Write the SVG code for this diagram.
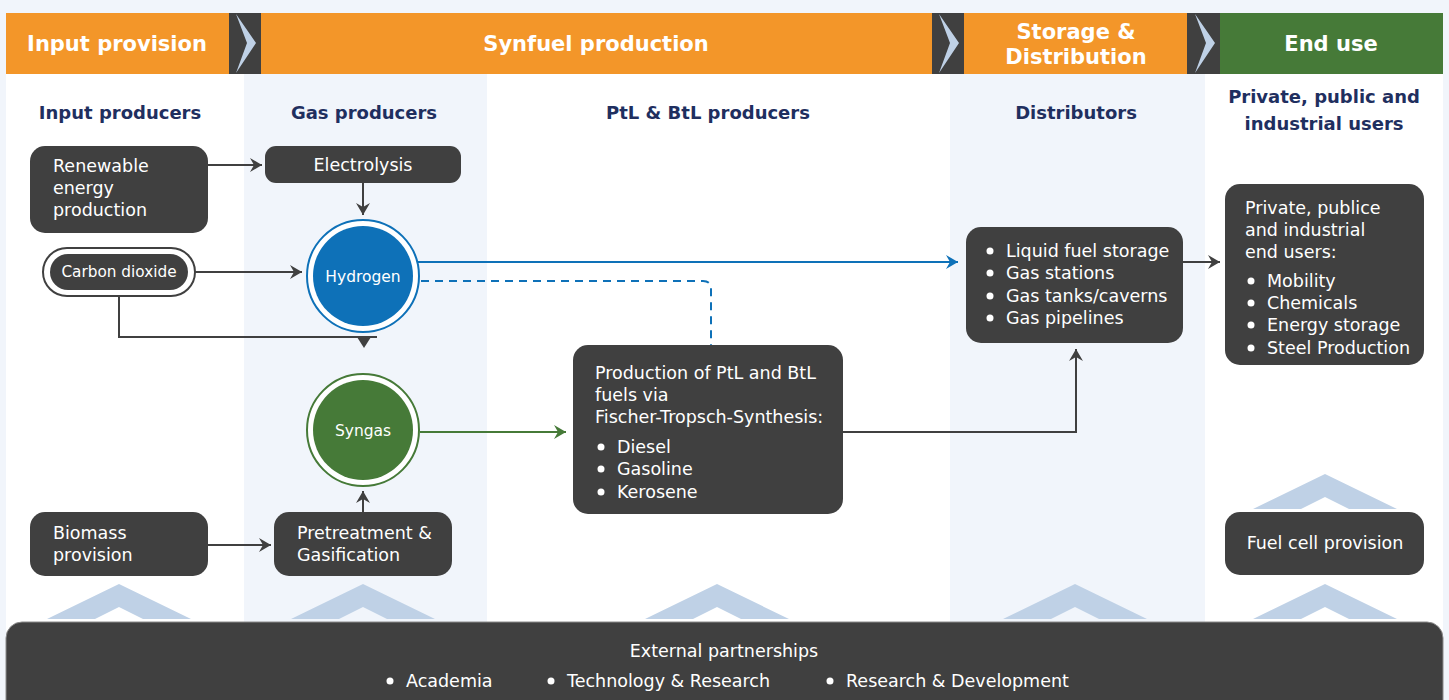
<svg xmlns="http://www.w3.org/2000/svg" width="1449" height="700" viewBox="0 0 1449 700">
<style>
.hdr{font-family:"DejaVu Sans","Liberation Sans",sans-serif;font-weight:bold;font-size:21px;fill:#fff;text-anchor:middle}
.col{font-family:"DejaVu Sans","Liberation Sans",sans-serif;font-weight:bold;font-size:18px;fill:#1f2f5f;text-anchor:middle}
.box{fill:#404040}
.t{font-family:"DejaVu Sans","Liberation Sans",sans-serif;font-size:17.5px;fill:#fff}
.tc{font-family:"DejaVu Sans","Liberation Sans",sans-serif;font-size:17.5px;fill:#fff;text-anchor:middle}
.chev{fill:#bfd1e6}
.sep{fill:#404040}
.ln{fill:none;stroke:#404040;stroke-width:2}
.lb{fill:none;stroke:#0e71b8;stroke-width:2}
.lg{fill:none;stroke:#467a38;stroke-width:2}
</style>
<defs>
<marker id="ad" markerUnits="userSpaceOnUse" markerWidth="13" markerHeight="14" refX="12" refY="7" orient="auto"><path d="M0,0 L12,7 L0,14 L4,7 Z" fill="#404040"/></marker>
<marker id="ab" markerUnits="userSpaceOnUse" markerWidth="13" markerHeight="14" refX="12" refY="7" orient="auto"><path d="M0,0 L12,7 L0,14 L4,7 Z" fill="#0e71b8"/></marker>
<marker id="ag" markerUnits="userSpaceOnUse" markerWidth="13" markerHeight="14" refX="12" refY="7" orient="auto"><path d="M0,0 L12,7 L0,14 L4,7 Z" fill="#467a38"/></marker>
<path id="chup" d="M-72,35 L0,0 L72,35 L24,35 L0,23 L-24,35 Z"/>
<path id="chr" d="M0,0 L20,29 L0,59 L11,29 Z"/>
</defs>
<rect width="1449" height="700" fill="#f1f5fb"/>
<!-- columns -->
<rect x="6" y="74" width="238" height="560" fill="#ffffff"/>
<rect x="487" y="74" width="463" height="560" fill="#ffffff"/>
<rect x="1205" y="74" width="238" height="560" fill="#ffffff"/>
<!-- header -->
<g id="header">
<rect x="6" y="13" width="1214" height="61" fill="#f39629"/>
<rect x="1220" y="13" width="223" height="61" fill="#467a38"/>
<rect class="sep" x="229" y="13" width="32" height="61"/>
<rect class="sep" x="932" y="13" width="32" height="61"/>
<rect class="sep" x="1187" y="13" width="33" height="61"/>
<use href="#chr" x="236" y="14" class="chev"/>
<use href="#chr" x="939" y="14" class="chev"/>
<use href="#chr" x="1195" y="14" class="chev"/>
<text class="hdr" x="117" y="51">Input provision</text>
<text class="hdr" x="596" y="51">Synfuel production</text>
<text class="hdr" x="1076" y="39">Storage &amp;</text>
<text class="hdr" x="1076" y="64">Distribution</text>
<text class="hdr" x="1331" y="51">End use</text>
</g>
<g id="column-headers">
<text class="col" x="120" y="119">Input producers</text>
<text class="col" x="364" y="119">Gas producers</text>
<text class="col" x="708" y="119">PtL &amp; BtL producers</text>
<text class="col" x="1076" y="119">Distributors</text>
<text class="col" x="1324" y="103">Private, public and</text>
<text class="col" x="1324" y="130">industrial users</text>
</g>
<!-- chevrons -->
<g id="chevrons" class="chev">
<use href="#chup" x="119" y="584"/>
<use href="#chup" x="363" y="584"/>
<use href="#chup" x="717" y="584"/>
<use href="#chup" x="1075" y="584"/>
<use href="#chup" x="1325" y="584"/>
<use href="#chup" x="1325" y="474"/>
</g>
<!-- connectors -->
<g id="connectors">
<line class="ln" x1="208" y1="165" x2="262" y2="165" marker-end="url(#ad)"/>
<line class="ln" x1="363" y1="183" x2="363" y2="215" marker-end="url(#ad)"/>
<line class="ln" x1="195" y1="272" x2="302" y2="272" marker-end="url(#ad)"/>
<path class="ln" d="M119,296 V337 H377"/>
<path d="M357,337 L364,348 L371,337 Z" fill="#404040"/>
<line class="lb" x1="418" y1="262" x2="958" y2="262" marker-end="url(#ab)"/>
<path class="lb" d="M421,281 H703 Q711,281 711,289 V345" stroke-dasharray="8,6"/>
<line class="lg" x1="420" y1="432" x2="566" y2="432" marker-end="url(#ag)"/>
<line class="ln" x1="363" y1="512" x2="363" y2="491" marker-end="url(#ad)"/>
<line class="ln" x1="208" y1="545" x2="271" y2="545" marker-end="url(#ad)"/>
<path class="ln" d="M843,432 H1076 V349" marker-end="url(#ad)"/>
<line class="ln" x1="1183" y1="262" x2="1220" y2="262" marker-end="url(#ad)"/>
</g>
<!-- nodes -->
<g id="renewable">
<rect class="box" x="30" y="146" width="178" height="87" rx="15"/>
<text class="t" x="53" y="172">Renewable</text>
<text class="t" x="53" y="194">energy</text>
<text class="t" x="53" y="216">production</text>
</g>
<g id="electrolysis">
<rect class="box" x="265" y="146" width="196" height="37" rx="11"/>
<text class="tc" x="363" y="171">Electrolysis</text>
</g>
<g id="carbon-dioxide">
<rect x="43" y="248" width="152" height="48" rx="24" fill="#fff" stroke="#404040" stroke-width="2"/>
<rect class="box" x="50" y="254" width="138" height="36" rx="18"/>
<text class="tc" x="119" y="277" style="font-size:15.3px">Carbon dioxide</text>
</g>
<g id="hydrogen">
<circle cx="363" cy="276" r="56" fill="#fff" stroke="#0e71b8" stroke-width="2"/>
<circle cx="363" cy="276" r="50" fill="#0e71b8"/>
<text class="tc" x="363" y="282" style="font-size:15.5px">Hydrogen</text>
</g>
<g id="syngas">
<circle cx="363" cy="430" r="56" fill="#fff" stroke="#467a38" stroke-width="2"/>
<circle cx="363" cy="430" r="50" fill="#467a38"/>
<text class="tc" x="363" y="436" style="font-size:15.5px">Syngas</text>
</g>
<g id="biomass">
<rect class="box" x="30" y="512" width="178" height="64" rx="15"/>
<text class="t" x="53" y="539">Biomass</text>
<text class="t" x="53" y="561">provision</text>
</g>
<g id="pretreatment">
<rect class="box" x="274" y="512" width="178" height="64" rx="15"/>
<text class="t" x="297" y="539">Pretreatment &amp;</text>
<text class="t" x="297" y="561">Gasification</text>
</g>
<g id="ptl">
<rect class="box" x="573" y="345" width="270" height="169" rx="15"/>
<text class="t" x="595" y="379">Production of PtL and BtL</text>
<text class="t" x="595" y="401">fuels via</text>
<text class="t" x="595" y="423">Fischer-Tropsch-Synthesis:</text>
<circle cx="601" cy="447" r="3.5" fill="#fff"/><text class="t" x="617" y="453">Diesel</text>
<circle cx="601" cy="469" r="3.5" fill="#fff"/><text class="t" x="617" y="475">Gasoline</text>
<circle cx="601" cy="492" r="3.5" fill="#fff"/><text class="t" x="617" y="498">Kerosene</text>
</g>
<g id="distributors">
<rect class="box" x="966" y="227" width="217" height="116" rx="15"/>
<circle cx="990" cy="251" r="3.5" fill="#fff"/><text class="t" x="1006" y="257">Liquid fuel storage</text>
<circle cx="990" cy="273" r="3.5" fill="#fff"/><text class="t" x="1006" y="279">Gas stations</text>
<circle cx="990" cy="296" r="3.5" fill="#fff"/><text class="t" x="1006" y="302">Gas tanks/caverns</text>
<circle cx="990" cy="318" r="3.5" fill="#fff"/><text class="t" x="1006" y="324">Gas pipelines</text>
</g>
<g id="end-users">
<rect class="box" x="1225" y="184" width="199" height="181" rx="15"/>
<text class="t" x="1245" y="214">Private, publice</text>
<text class="t" x="1245" y="236">and industrial</text>
<text class="t" x="1245" y="258">end users:</text>
<circle cx="1251" cy="281" r="3.5" fill="#fff"/><text class="t" x="1267" y="287">Mobility</text>
<circle cx="1251" cy="303" r="3.5" fill="#fff"/><text class="t" x="1267" y="309">Chemicals</text>
<circle cx="1251" cy="325" r="3.5" fill="#fff"/><text class="t" x="1267" y="331">Energy storage</text>
<circle cx="1251" cy="348" r="3.5" fill="#fff"/><text class="t" x="1267" y="354">Steel Production</text>
</g>
<g id="fuel-cell">
<rect class="box" x="1225" y="512" width="199" height="63" rx="15"/>
<text class="tc" x="1325" y="549">Fuel cell provision</text>
</g>
<g id="external">
<rect x="6" y="622" width="1437" height="100" rx="16" fill="#404040" stroke="#8a8a8a" stroke-width="1"/>
<text class="tc" x="724" y="657">External partnerships</text>
<circle cx="390" cy="681" r="3.5" fill="#fff"/><text class="t" x="406" y="687">Academia</text>
<circle cx="551" cy="681" r="3.5" fill="#fff"/><text class="t" x="567" y="687">Technology &amp; Research</text>
<circle cx="830" cy="681" r="3.5" fill="#fff"/><text class="t" x="846" y="687">Research &amp; Development</text>
</g>
</svg>
